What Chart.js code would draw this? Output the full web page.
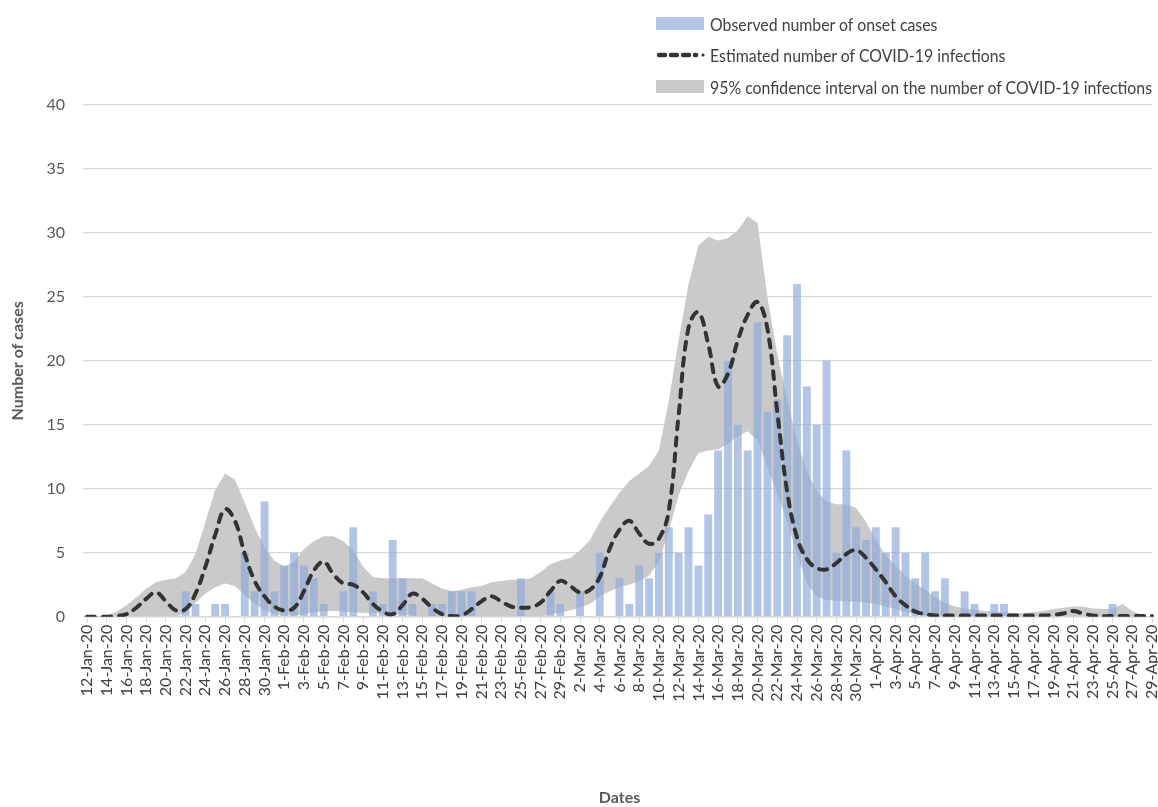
<!DOCTYPE html>
<html>
<head>
<meta charset="utf-8">
<title>COVID-19 onset cases</title>
<script src="https://cdn.jsdelivr.net/npm/chart.js@4.4.1/dist/chart.umd.min.js"></script>
<style>
    html, body { margin: 0; padding: 0; background: #fff; }
    #wrap { position: relative; width: 1158px; height: 807px; }
    #legend {
        position: absolute; left: 656px; top: 8px;
        font-family: Lato, "Open Sans", sans-serif;
        font-size: 18px; color: #404040;
    }
    .item { display: flex; align-items: center; height: 31.5px; white-space: nowrap; }
    .swatch { width: 48px; height: 13px; margin-right: 6px; flex: none; }
    .item svg { margin-right: 4px; flex: none; }
    .txt { display: inline-block; transform-origin: left center; }
</style>
</head>
<body>
<div id="wrap">
    <canvas id="chart" width="1158" height="807"></canvas>
    <div id="legend">
        <div class="item"><div class="swatch" style="background:#b4c7e7"></div><span class="txt">Observed number of onset cases</span></div>
        <div class="item">
            <svg width="50" height="10"><line x1="3" y1="5" x2="40" y2="5" stroke="#333" stroke-width="4.5" stroke-dasharray="6 6" stroke-linecap="round"/><circle cx="47" cy="5" r="1.6" fill="#333"/></svg><span class="txt">Estimated number of COVID-19 infections</span>
        </div>
        <div class="item"><div class="swatch" style="background:#cbcaca"></div><span class="txt">95% confidence interval on the number of COVID-19 infections</span></div>
    </div>
</div>
<script>
// Daily categories 12-Jan-20 .. 29-Apr-20
const monthNames = ['Jan', 'Feb', 'Mar', 'Apr'];
const dates = [];
for (let i = 0; i < 109; i++) {
    const d = new Date(Date.UTC(2020, 0, 12 + i));
    dates.push(d.getUTCDate() + '-' + monthNames[d.getUTCMonth()] + '-20');
}

// Observed number of onset cases
const observedCases = [
    0, 0, 0, 0, 0, 0, 0, 0, 0, 0,
    2, 1, 0, 1, 1, 0, 5, 2, 9, 2,
    4, 5, 4, 3, 1, 0, 2, 7, 0, 2,
    1, 6, 3, 1, 0, 1, 1, 2, 2, 2,
    0, 0, 0, 0, 3, 0, 0, 2, 1, 0,
    2, 0, 5, 0, 3, 1, 4, 3, 5, 7,
    5, 7, 4, 8, 13, 20, 15, 13, 23, 16,
    17, 22, 26, 18, 15, 20, 5, 13, 7, 6,
    7, 5, 7, 5, 3, 5, 2, 3, 0, 2,
    1, 0, 1, 1, 0, 0, 0, 0, 0, 0,
    0, 0, 0, 0, 1, 0, 0, 0, 0
];

// Estimated number of infections
const estimated = [
    0, 0, 0, 0.05, 0.2, 0.7, 1.4, 1.9, 1.2, 0.5,
    0.6, 1.8, 3.9, 6.4, 8.4, 7.5, 4.9, 2.8, 1.6, 0.8,
    0.5, 0.7, 2.0, 3.6, 4.3, 3.3, 2.6, 2.5, 1.9, 1.0,
    0.4, 0.2, 0.9, 1.8, 1.4, 0.7, 0.2, 0.05, 0.1, 0.6,
    1.2, 1.6, 1.2, 0.8, 0.7, 0.75, 1.1, 2.0, 2.8, 2.4,
    1.9, 2.1, 3.1, 5.3, 6.8, 7.5, 6.5, 5.7, 6.1, 8.3,
    15.8, 22.6, 23.8, 21.3, 18.0, 19.0, 21.6, 23.6, 24.6, 22.5,
    16.0, 9.8, 6.2, 4.5, 3.8, 3.7, 4.2, 4.9, 5.2, 4.6,
    3.7, 2.7, 1.6, 0.9, 0.4, 0.2, 0.1, 0.1, 0.1, 0.1,
    0.1, 0.1, 0.1, 0.1, 0.1, 0.1, 0.1, 0.1, 0.15, 0.25,
    0.45, 0.25, 0.1, 0.05, 0.05, 0.05, 0.05, 0.05, 0.05
];

// 95% confidence interval bounds
const ciUpper = [
    0, 0, 0.1, 0.4, 0.9, 1.5, 2.2, 2.7, 2.9, 3.0,
    3.5, 4.9, 7.4, 9.9, 11.2, 10.7, 8.9, 7.0, 5.4, 4.4,
    3.9, 4.3, 5.3, 5.9, 6.3, 6.3, 5.9, 5.2, 3.9, 3.1,
    3.0, 3.0, 3.0, 3.0, 3.0, 2.6, 2.2, 2.0, 2.1, 2.3,
    2.4, 2.7, 2.8, 2.9, 2.9, 3.0, 3.5, 4.1, 4.4, 4.6,
    5.2, 6.0, 7.4, 8.6, 9.7, 10.6, 11.2, 11.8, 13.0, 16.9,
    21.6, 26.0, 29.0, 29.7, 29.4, 29.6, 30.2, 31.3, 30.8, 25.0,
    20.5, 17.0, 13.8, 11.4, 9.8, 9.0, 8.8, 8.8, 8.5, 7.4,
    6.0, 4.8, 4.0, 3.2, 2.6, 2.1, 1.5, 1.1, 0.8, 0.65,
    0.55, 0.45, 0.4, 0.35, 0.3, 0.3, 0.35, 0.45, 0.6, 0.7,
    0.8, 0.8, 0.65, 0.6, 0.6, 1.0, 0.45, 0.1, 0
];
const ciLower = [
    0, 0, 0, 0, 0, 0, 0, 0, 0, 0,
    0.3, 1.1, 1.8, 2.3, 2.6, 2.4, 1.7, 1.0, 0.5, 0.2,
    0.1, 0.1, 0.2, 0.35, 0.45, 0.45, 0.4, 0.35, 0.3, 0.3,
    0.25, 0.2, 0.15, 0.1, 0, 0, 0, 0, 0, 0,
    0, 0, 0, 0, 0, 0, 0, 0.2, 0.3, 0.5,
    0.7, 1.0, 1.6, 2.0, 2.3, 2.5, 2.8, 3.2, 4.3, 6.7,
    9.5, 11.4, 12.8, 13.0, 13.1, 13.5, 14.1, 14.5, 13.8, 11.7,
    9.6, 7.5, 4.9, 2.6, 1.6, 1.3, 1.25, 1.2, 1.2, 1.1,
    1.0, 0.8, 0.6, 0.35, 0.2, 0.1, 0, 0, 0, 0,
    0, 0, 0, 0, 0, 0, 0, 0, 0, 0,
    0, 0, 0, 0, 0, 0, 0, 0, 0
];

const yTicks = [0, 5, 10, 15, 20, 25, 30, 35, 40];

const axisFont = "Lato, 'Open Sans', sans-serif";

// squeeze legend text to the narrow look of the original
const legendTexts = document.querySelectorAll('#legend .txt');
let widest = 0;
legendTexts.forEach(t => { widest = Math.max(widest, t.getBoundingClientRect().width); });
if (widest > 0) {
    const s = 442 / widest;
    legendTexts.forEach(t => { t.style.transform = 'scaleX(' + s + ')'; });
}

new Chart(document.getElementById('chart'), {
    type: 'bar',
    data: {
        labels: dates,
        datasets: [
            {
                type: 'line',
                label: 'CI lower',
                data: ciLower,
                borderWidth: 0,
                pointRadius: 0,
                fill: false,
                tension: 0,
                order: 3
            },
            {
                type: 'line',
                label: '95% confidence interval on the number of COVID-19 infections',
                data: ciUpper,
                borderWidth: 0,
                pointRadius: 0,
                backgroundColor: '#cbcaca',
                fill: '-1',
                tension: 0,
                order: 3
            },
            {
                label: 'Observed number of onset cases',
                data: observedCases,
                backgroundColor: 'rgba(143, 170, 220, 0.68)',
                barPercentage: 0.8,
                categoryPercentage: 1.0,
                order: 2
            },
            {
                type: 'line',
                label: 'Estimated number of COVID-19 infections',
                data: estimated,
                borderColor: '#333333',
                borderWidth: 4,
                borderDash: [8, 8],
                borderCapStyle: 'round',
                pointRadius: 0,
                fill: false,
                tension: 0.4,
                order: 1
            }
        ]
    },
    options: {
        responsive: false,
        animation: false,
        layout: { padding: { top: 105, right: 0, left: 8, bottom: 0 } },
        plugins: {
            legend: { display: false },
            tooltip: { enabled: false }
        },
        scales: {
            x: {
                offset: false,
                afterFit: s => { s.paddingLeft = 0; s.paddingRight = 6; },
                grid: { offset: false, drawOnChartArea: false, color: '#d9d9d9', tickLength: 6 },
                border: { color: '#d9d9d9', width: 1.5 },
                ticks: {
                    autoSkip: false,
                    maxRotation: 90,
                    minRotation: 90,
                    padding: 2,
                    color: '#404040',
                    font: { family: axisFont, size: 16 },
                    callback: (v, i) => (i % 2 === 0 ? dates[i] : null)
                },
                title: {
                    display: true,
                    text: 'Dates',
                    color: '#595959',
                    font: { family: axisFont, size: 16, weight: 'bold' },
                    padding: { top: 84, bottom: 0 }
                }
            },
            y: {
                min: 0,
                max: 40,
                afterBuildTicks: axis => { axis.ticks = yTicks.map(v => ({ value: v })); },
                afterFit: s => { s.width = 79; },
                grid: { color: '#d9d9d9', lineWidth: 1.3, tickLength: 4 },
                border: { display: false },
                ticks: {
                    padding: 18,
                    color: '#595959',
                    font: { family: axisFont, size: 16 }
                },
                title: {
                    display: true,
                    text: 'Number of cases',
                    color: '#595959',
                    font: { family: axisFont, size: 16, weight: 'bold' },
                    padding: { top: 0, bottom: 6 }
                }
            }
        }
    }
});
</script>
</body>
</html>
